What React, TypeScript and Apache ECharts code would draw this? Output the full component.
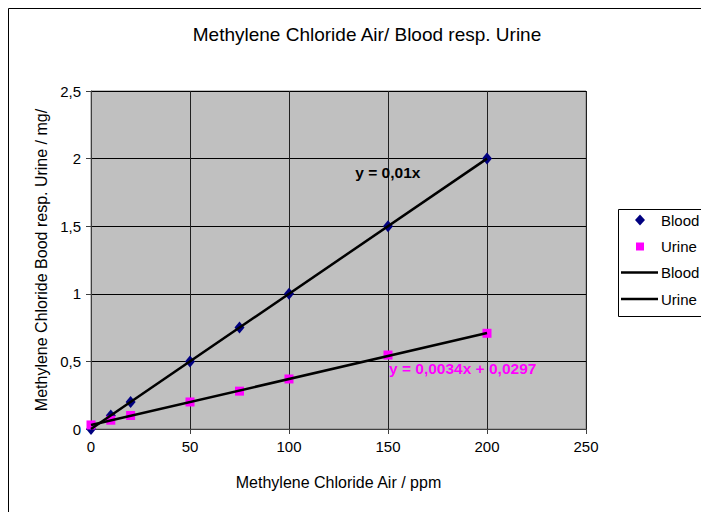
import React, { useEffect, useRef } from "react";
import * as echarts from "echarts";

const airPpm = [0, 10, 20, 50, 75, 100, 150, 200];
const bloodValues = [0, 0.1, 0.2, 0.5, 0.75, 1.0, 1.5, 2.0];
const urineValues = [0.03, 0.065, 0.1, 0.2, 0.28, 0.37, 0.547, 0.708];
const bloodTrendX = [0, 200];
const bloodTrendY = [0, 2.0];
const urineTrendX = [0, 200];
const urineTrendY = [0.0297, 0.7097];
const xTicks = [0, 50, 100, 150, 200, 250];
const yTicks = [0, 0.5, 1, 1.5, 2, 2.5];
const legendNames = ["Blood", "Urine", "Blood", "Urine"];
const bloodLabel = "y = 0,01x";
const urineLabel = "y = 0,0034x + 0,0297";
const bloodLabelAt = [133.5, 1.9];
const urineLabelAt = [150.5, 0.451];

const fmt = (v: number) => String(v).replace(".", ",");
const FONT = "Liberation Sans";
const NAVY = "#000080";
const MAGENTA = "#ff00ff";

export default function App() {
  const ref = useRef<HTMLDivElement>(null);
  useEffect(() => {
    if (!ref.current) return;
    const chart = echarts.init(ref.current, undefined, { renderer: "svg" });

    const lx = 618;
    const rows = [220, 246.5, 272.5, 299];
    const legendGraphic: any[] = [
      {
        type: "rect",
        shape: { x: lx + 0.5, y: 209.5, width: 200, height: 107 },
        style: { fill: "#fff", stroke: "#000", lineWidth: 1 },
        z: 50,
      },
      {
        type: "polygon",
        shape: { points: [[640, rows[0] - 5.5], [645, rows[0]], [640, rows[0] + 5.5], [635, rows[0]]] },
        style: { fill: NAVY },
        z: 51,
      },
      {
        type: "rect",
        shape: { x: 636, y: rows[1] - 4, width: 8, height: 8 },
        style: { fill: MAGENTA },
        z: 51,
      },
      {
        type: "line",
        shape: { x1: 621, y1: rows[2], x2: 658, y2: rows[2] },
        style: { stroke: "#000", lineWidth: 2.5 },
        z: 51,
      },
      {
        type: "line",
        shape: { x1: 621, y1: rows[3], x2: 658, y2: rows[3] },
        style: { stroke: "#000", lineWidth: 2.5 },
        z: 51,
      },
      ...legendNames.map((n, i) => ({
        type: "text",
        x: 661,
        y: rows[i],
        style: {
          text: n,
          fontFamily: FONT,
          fontSize: 15,
          fill: "#000",
          verticalAlign: "middle",
          align: "left",
        },
        z: 51,
      })),
    ];

    chart.setOption({
      animation: false,
      backgroundColor: "#ffffff",
      textStyle: { fontFamily: FONT },
      graphic: [
        {
          type: "rect",
          shape: { x: 8.5, y: 8.5, width: 900, height: 700 },
          style: { fill: "none", stroke: "#000", lineWidth: 1 },
          z: 100,
          silent: true,
        },
        ...legendGraphic,
      ],
      title: {
        text: "Methylene Chloride Air/ Blood resp. Urine",
        left: 362,
        textAlign: "center",
        top: 20,
        textStyle: { fontFamily: FONT, fontSize: 19, fontWeight: "normal", color: "#000" },
      },
      legend: { show: false },
      grid: {
        left: 91,
        right: 115,
        top: 91,
        bottom: 83,
        show: true,
        backgroundColor: "#c0c0c0",
        borderColor: "#808080",
        borderWidth: 1,
      },
      xAxis: {
        type: "value",
        min: xTicks[0],
        max: xTicks[xTicks.length - 1],
        interval: 50,
        name: "Methylene Chloride Air / ppm",
        nameLocation: "middle",
        nameGap: 45,
        nameTextStyle: { fontFamily: FONT, fontSize: 16, color: "#000" },
        axisLine: { onZero: false, lineStyle: { color: "#404040", width: 1 } },
        axisTick: { show: true, length: 5, lineStyle: { color: "#404040" } },
        axisLabel: { fontFamily: FONT, fontSize: 15, color: "#000", margin: 10, formatter: fmt },
        splitLine: { show: true, lineStyle: { color: "#202020", width: 1 } },
      },
      yAxis: {
        type: "value",
        min: yTicks[0],
        max: yTicks[yTicks.length - 1],
        interval: 0.5,
        name: "Methylene Chloride Bood resp. Urine / mg/",
        nameLocation: "middle",
        nameGap: 42,
        nameTextStyle: { fontFamily: FONT, fontSize: 16, color: "#000" },
        axisLine: { show: true, onZero: false, lineStyle: { color: "#404040", width: 1 } },
        axisTick: { show: true, length: 5, lineStyle: { color: "#404040" } },
        axisLabel: { fontFamily: FONT, fontSize: 15, color: "#000", margin: 10, formatter: fmt },
        splitLine: { show: true, lineStyle: { color: "#000", width: 1 } },
      },
      series: [
        {
          name: "Blood trend",
          type: "line",
          data: bloodTrendX.map((x, i) => [x, bloodTrendY[i]]),
          showSymbol: false,
          symbol: "none",
          lineStyle: { color: "#000", width: 2.5 },
          itemStyle: { color: "#000" },
          z: 3,
          markPoint: {
            symbol: "circle",
            symbolSize: 0,
            data: [{ coord: bloodLabelAt, value: 0 }],
            label: {
              show: true,
              position: "right",
              distance: 0,
              formatter: bloodLabel,
              fontFamily: FONT,
              fontSize: 15.5,
              fontWeight: "bold",
              color: "#000",
            },
          },
        },
        {
          name: "Urine trend",
          type: "line",
          data: urineTrendX.map((x, i) => [x, urineTrendY[i]]),
          showSymbol: false,
          symbol: "none",
          lineStyle: { color: "#000", width: 2.5 },
          itemStyle: { color: "#000" },
          z: 3,
          markPoint: {
            symbol: "circle",
            symbolSize: 0,
            data: [{ coord: urineLabelAt, value: 0 }],
            label: {
              show: true,
              position: "right",
              distance: 0,
              formatter: urineLabel,
              fontFamily: FONT,
              fontSize: 15.5,
              fontWeight: "bold",
              color: MAGENTA,
            },
          },
        },
        {
          name: "Blood",
          type: "scatter",
          data: airPpm.map((x, i) => [x, bloodValues[i]]),
          symbol: "diamond",
          symbolSize: [10, 12],
          itemStyle: { color: NAVY, opacity: 1 },
          z: 2,
        },
        {
          name: "Urine",
          type: "scatter",
          data: airPpm.map((x, i) => [x, urineValues[i]]),
          symbol: "rect",
          symbolSize: 9,
          itemStyle: { color: MAGENTA, opacity: 1 },
          z: 2,
        },
      ],
    });
    return () => chart.dispose();
  }, []);
  return (
    <div
      ref={ref}
      style={{ position: "fixed", left: 0, top: 0, width: 701, height: 512 }}
    />
  );
}
